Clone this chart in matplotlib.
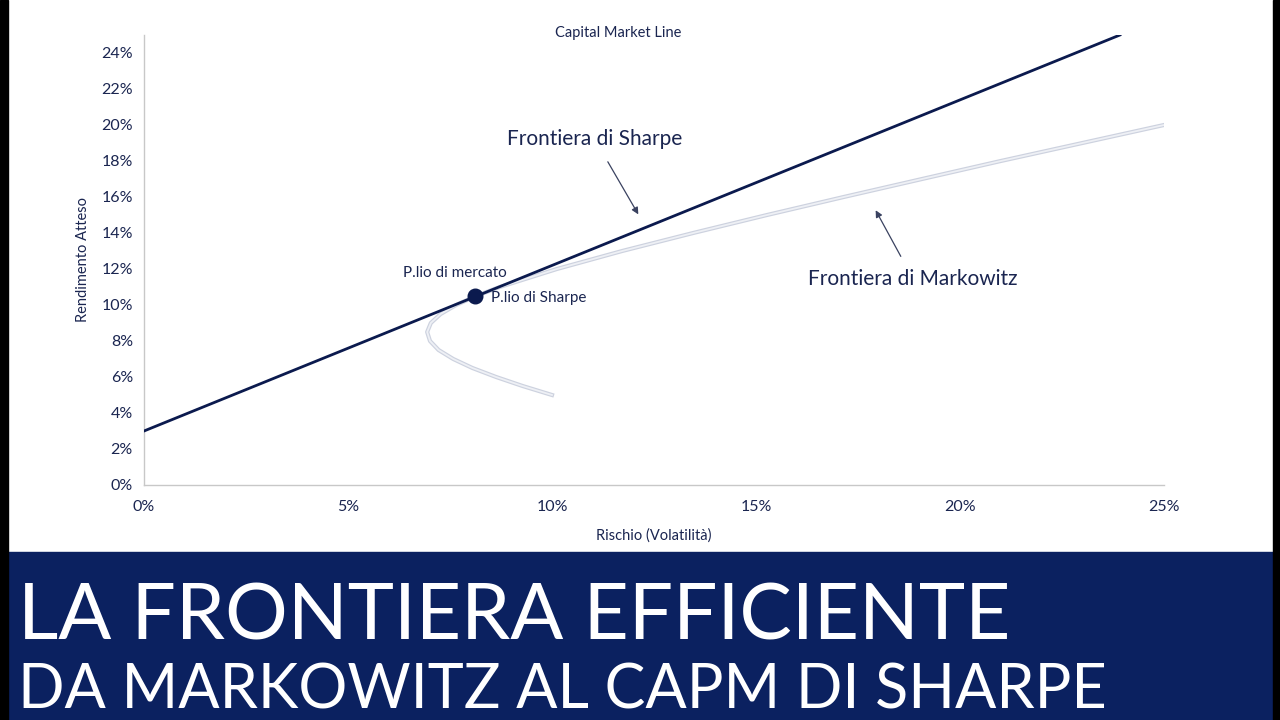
import numpy as np
import matplotlib.pyplot as plt
from matplotlib.patches import Rectangle
from matplotlib.ticker import FuncFormatter

plt.rcParams['font.family'] = ['Lato', 'DejaVu Sans']

# valori (percentuali)
cml_risk = [0, 23.92]
cml_ret = [3.0, 25.0]

frontier_ret = [5, 5.5, 6, 6.5, 7, 7.5, 8, 8.5, 9, 9.5, 10, 10.5, 11, 12, 13,
                14, 15, 16, 17, 18, 19, 20]
frontier_risk = [10.0, 9.28, 8.63, 8.05, 7.58, 7.22, 7.01, 6.94, 7.03, 7.27,
                 7.65, 8.14, 8.72, 10.12, 11.72, 13.46, 15.27, 17.15, 19.07,
                 21.0, 23.0, 25.0]

market_risk = 8.11
market_ret = 10.5

yticks = list(range(0, 25, 2))
xticks = [0, 5, 10, 15, 20, 25]

navy = '#0b1a4e'
txt = '#1a2550'

fig = plt.figure(figsize=(12.8, 7.2), dpi=100)
fig.patch.set_facecolor('white')

ax = fig.add_axes([144 / 1280, 235 / 720, 1020 / 1280, 450 / 720])
ax.plot(frontier_risk, frontier_ret, color='#cdd2df', lw=3, zorder=2)
ax.plot(frontier_risk, frontier_ret, color='#eef0f5', lw=1.3, zorder=2)
ax.plot(cml_risk, cml_ret, color=navy, lw=2, zorder=3)
ax.plot([market_risk], [market_ret], 'o', color=navy, ms=10.5, zorder=4)

ax.set_xlim(0, 25)
ax.set_ylim(0, 25)
ax.set_xticks(xticks)
ax.set_yticks(yticks)
ax.xaxis.set_major_formatter(FuncFormatter(lambda v, p: f'{v:.0f}%'))
ax.yaxis.set_major_formatter(FuncFormatter(lambda v, p: f'{v:.0f}%'))
ax.tick_params(length=0, labelsize=11.5, colors=txt, pad=8)
ax.tick_params(axis='x', pad=11)
for s in ['top', 'right']:
    ax.spines[s].set_visible(False)
for s in ['left', 'bottom']:
    ax.spines[s].set_color('#c8c8c8')
    ax.spines[s].set_linewidth(1)

ax.set_xlabel('Rischio (Volatilità)', fontsize=10.5, color=txt, labelpad=10)
ax.set_ylabel('Rendimento Atteso', fontsize=10.5, color=txt, labelpad=8)
ax.text(0.465, 1.004, 'Capital Market Line', fontsize=10.5, color=txt,
        ha='center', va='center', transform=ax.transAxes)

ax.annotate('Frontiera di Sharpe', xy=(12.15, 14.9), xytext=(11.05, 19.2),
            fontsize=15, color=txt, ha='center', va='center',
            arrowprops=dict(arrowstyle='-|>', color='#3a4260', lw=0.9,
                            mutation_scale=10, shrinkA=8))
ax.annotate('Frontiera di Markowitz', xy=(17.9, 15.4), xytext=(18.85, 11.45),
            fontsize=15, color=txt, ha='center', va='center',
            arrowprops=dict(arrowstyle='-|>', color='#3a4260', lw=0.9,
                            mutation_scale=10, shrinkA=8))
ax.text(7.62, 11.8, 'P.lio di mercato', fontsize=11, color=txt, ha='center', va='center')
ax.text(8.5, 10.4, 'P.lio di Sharpe', fontsize=11, color=txt, ha='left', va='center')

# banda del titolo
fig.patches.append(Rectangle((0, 0), 1, 168 / 720, transform=fig.transFigure,
                             color='#0b2160', zorder=0))
fig.patches.append(Rectangle((0, 0), 8 / 1280, 1, transform=fig.transFigure,
                             color='black', zorder=1))
fig.patches.append(Rectangle((1273 / 1280, 0), 7 / 1280, 1, transform=fig.transFigure,
                             color='black', zorder=1))
fig.text(18 / 1280, 1 - 618 / 720, 'LA FRONTIERA EFFICIENTE', fontsize=56.5,
         color='white', ha='left', va='center')
fig.text(18 / 1280, 1 - 691 / 720, 'DA MARKOWITZ AL CAPM DI SHARPE', fontsize=44,
         color='white', ha='left', va='center')

fig.savefig('out.png', dpi=100)
